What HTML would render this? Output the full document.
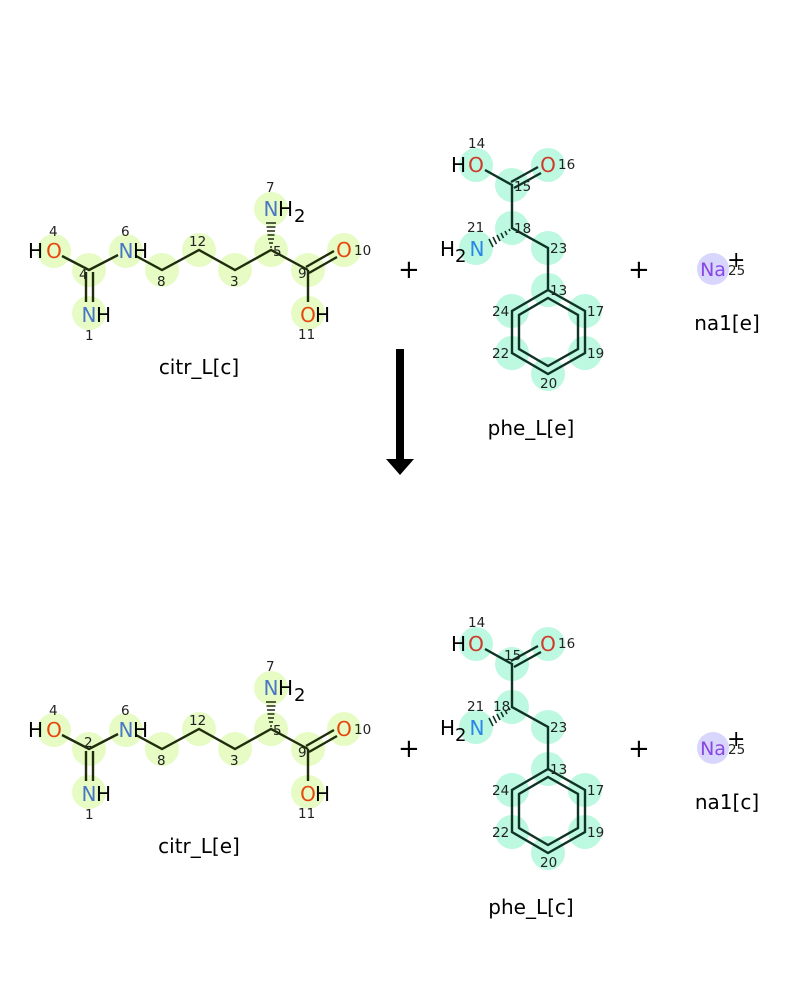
<!DOCTYPE html>
<html><head><meta charset="utf-8"><style>
html,body{margin:0;padding:0;background:#fff}
svg{display:block}
text{font-family:"DejaVu Sans","Liberation Sans",sans-serif}
.a{font-size:20px}
.c{text-anchor:middle}
.n{font-size:13.5px;fill:#222}
.lab{font-size:20px;fill:#000;text-anchor:middle}
.cy{fill:#e6fcc4}
.cp{fill:#bdf8e0}
.bc{stroke:#1f2d0c;stroke-width:2.4;fill:none}
.bp{stroke:#0f3325;stroke-width:2.4;fill:none}
.O{fill:#e5480e}
.Op{fill:#cc3b2b}
.N{fill:#4a76c6}
.Np{fill:#2b86e8}
</style></head><body>
<svg width="800" height="1000" viewBox="0 0 800 1000" xmlns="http://www.w3.org/2000/svg">
<defs></defs>
<g>
 <g class="cy">
  <circle cx="54" cy="251" r="17"/><circle cx="89" cy="270" r="17"/><circle cx="89" cy="313" r="17"/>
  <circle cx="126" cy="251" r="17"/><circle cx="162" cy="270" r="17"/><circle cx="199" cy="250" r="17"/>
  <circle cx="235" cy="270" r="17"/><circle cx="271" cy="250" r="17"/><circle cx="271" cy="209" r="17"/>
  <circle cx="308" cy="270" r="17"/><circle cx="344" cy="250" r="17"/><circle cx="308" cy="313" r="17"/>
 </g>
 <g class="bc">
  <path d="M62 256 L89 270 L118 255"/>
  <path d="M86 272 V302 M93 272 V302"/>
  <path d="M136 256 L162 270 L199 250 L235 270 L271 250 L308 270"/>
  <path d="M308 270 V302"/>
  <path d="M306 267 L334 251 M309 273 L337 257"/>
 </g>
 <g stroke="#1f2d0c" stroke-width="1.6">
  <path d="M270 247 h2 M269 243 h4 M268 239 h6 M267.5 235 h7 M267 231 h8 M266.5 227 h9 M266 223 h10"/>
 </g>
 <g class="cp">
  <circle cx="476" cy="165" r="17"/><circle cx="548" cy="165" r="17"/><circle cx="512" cy="185" r="17"/>
  <circle cx="512" cy="228" r="17"/><circle cx="476" cy="248" r="17"/><circle cx="548" cy="248" r="17"/>
  <circle cx="548" cy="290" r="17"/><circle cx="585" cy="311" r="17"/><circle cx="585" cy="353" r="17"/>
  <circle cx="548" cy="374" r="17"/><circle cx="512" cy="353" r="17"/><circle cx="512" cy="311" r="17"/>
 </g>
 <g class="bp">
  <path d="M485 170 L512 185 V228 L548 248 V290"/>
  <path d="M511 182 L538 167 M514 188 L541 173"/>
  <path d="M548 290 L585 311 V353 L548 374 L512 353 V311 Z"/>
  <path d="M548 298 L578 315 V349 L548 366 L519 349 V315 Z"/>
 </g>
 <g stroke="#0f3325" stroke-width="1.6">
  <path d="M509 229 l1 2 M505 231 l2 4 M501 233 l2.5 5 M497 235 l3 6 M493 237 l3.5 7 M489 239 l4 8"/>
 </g>
 <circle cx="713" cy="269" r="16" fill="#d8d6fc"/>
 <text class="a" x="28" y="258">H</text><text class="a O c" x="54" y="258">O</text>
 <text class="a N c" x="126" y="258">N</text><text class="a" x="133" y="258">H</text>
 <text class="a N c" x="89" y="322">N</text><text class="a" x="96" y="322">H</text>
 <text class="a N c" x="271" y="216">N</text><text class="a" x="278" y="216">H</text><text class="a" x="294" y="222" style="font-size:18px">2</text>
 <text class="a O c" x="344" y="257">O</text>
 <text class="a O c" x="308" y="322">O</text><text class="a" x="315" y="322">H</text>
 <text class="n" x="49" y="236">4</text><text class="n" x="121" y="236">6</text><text class="n" x="85" y="340">1</text>
 <text class="n" x="79" y="279">4</text><text class="n" x="157" y="286">8</text><text class="n" x="189" y="246">12</text>
 <text class="n" x="230" y="286">3</text><text class="n" x="273" y="256">5</text><text class="n" x="266" y="192">7</text>
 <text class="n" x="298" y="278">9</text><text class="n" x="354" y="255">10</text><text class="n" x="298" y="339">11</text>
 <text class="a" x="451" y="172">H</text><text class="a Op c" x="476" y="172">O</text>
 <text class="a Op c" x="548" y="172">O</text>
 <text class="a" x="440" y="256">H</text><text class="a" x="455" y="262" style="font-size:18px">2</text><text class="a Np c" x="477" y="256">N</text>
 <text class="n" x="468" y="148">14</text><text class="n" x="558" y="169">16</text><text class="n" x="514" y="191">15</text>
 <text class="n" x="467" y="232">21</text><text class="n" x="514" y="233">18</text><text class="n" x="550" y="253">23</text>
 <text class="n" x="550" y="295">13</text><text class="n" x="587" y="316">17</text><text class="n" x="587" y="358">19</text>
 <text class="n" x="540" y="388">20</text><text class="n" x="492" y="358">22</text><text class="n" x="492" y="316">24</text>
 <text class="a c" x="713" y="276" style="fill:#8a45e6;font-size:19px">Na</text><text class="n" x="728" y="275">25</text>
 <text x="727" y="267" style="font-size:22px;fill:#000">+</text>
 <text x="398" y="278" style="font-size:26px;fill:#000">+</text>
 <text x="628" y="278" style="font-size:26px;fill:#000">+</text>
</g>
<text class="lab" x="199" y="374">citr_L[c]</text>
<text class="lab" x="531" y="435">phe_L[e]</text>
<text class="lab" x="727" y="330">na1[e]</text>
<g transform="translate(0,479)">
 <g class="cy">
  <circle cx="54" cy="251" r="17"/><circle cx="89" cy="270" r="17"/><circle cx="89" cy="313" r="17"/>
  <circle cx="126" cy="251" r="17"/><circle cx="162" cy="270" r="17"/><circle cx="199" cy="250" r="17"/>
  <circle cx="235" cy="270" r="17"/><circle cx="271" cy="250" r="17"/><circle cx="271" cy="209" r="17"/>
  <circle cx="308" cy="270" r="17"/><circle cx="344" cy="250" r="17"/><circle cx="308" cy="313" r="17"/>
 </g>
 <g class="bc">
  <path d="M62 256 L89 270 L118 255"/>
  <path d="M86 272 V302 M93 272 V302"/>
  <path d="M136 256 L162 270 L199 250 L235 270 L271 250 L308 270"/>
  <path d="M308 270 V302"/>
  <path d="M306 267 L334 251 M309 273 L337 257"/>
 </g>
 <g stroke="#1f2d0c" stroke-width="1.6">
  <path d="M270 247 h2 M269 243 h4 M268 239 h6 M267.5 235 h7 M267 231 h8 M266.5 227 h9 M266 223 h10"/>
 </g>
 <g class="cp">
  <circle cx="476" cy="165" r="17"/><circle cx="548" cy="165" r="17"/><circle cx="512" cy="185" r="17"/>
  <circle cx="512" cy="228" r="17"/><circle cx="476" cy="248" r="17"/><circle cx="548" cy="248" r="17"/>
  <circle cx="548" cy="290" r="17"/><circle cx="585" cy="311" r="17"/><circle cx="585" cy="353" r="17"/>
  <circle cx="548" cy="374" r="17"/><circle cx="512" cy="353" r="17"/><circle cx="512" cy="311" r="17"/>
 </g>
 <g class="bp">
  <path d="M485 170 L512 185 V228 L548 248 V290"/>
  <path d="M511 182 L538 167 M514 188 L541 173"/>
  <path d="M548 290 L585 311 V353 L548 374 L512 353 V311 Z"/>
  <path d="M548 298 L578 315 V349 L548 366 L519 349 V315 Z"/>
 </g>
 <g stroke="#0f3325" stroke-width="1.6">
  <path d="M509 229 l1 2 M505 231 l2 4 M501 233 l2.5 5 M497 235 l3 6 M493 237 l3.5 7 M489 239 l4 8"/>
 </g>
 <circle cx="713" cy="269" r="16" fill="#d8d6fc"/>
 <text class="a" x="28" y="258">H</text><text class="a O c" x="54" y="258">O</text>
 <text class="a N c" x="126" y="258">N</text><text class="a" x="133" y="258">H</text>
 <text class="a N c" x="89" y="322">N</text><text class="a" x="96" y="322">H</text>
 <text class="a N c" x="271" y="216">N</text><text class="a" x="278" y="216">H</text><text class="a" x="294" y="222" style="font-size:18px">2</text>
 <text class="a O c" x="344" y="257">O</text>
 <text class="a O c" x="308" y="322">O</text><text class="a" x="315" y="322">H</text>
 <text class="n" x="49" y="236">4</text><text class="n" x="121" y="236">6</text><text class="n" x="85" y="340">1</text>
 <text class="n" x="84" y="268">2</text><text class="n" x="157" y="286">8</text><text class="n" x="189" y="246">12</text>
 <text class="n" x="230" y="286">3</text><text class="n" x="273" y="256">5</text><text class="n" x="266" y="192">7</text>
 <text class="n" x="298" y="278">9</text><text class="n" x="354" y="255">10</text><text class="n" x="298" y="339">11</text>
 <text class="a" x="451" y="172">H</text><text class="a Op c" x="476" y="172">O</text>
 <text class="a Op c" x="548" y="172">O</text>
 <text class="a" x="440" y="256">H</text><text class="a" x="455" y="262" style="font-size:18px">2</text><text class="a Np c" x="477" y="256">N</text>
 <text class="n" x="468" y="148">14</text><text class="n" x="558" y="169">16</text><text class="n" x="504" y="181">15</text>
 <text class="n" x="467" y="232">21</text><text class="n" x="493" y="232">18</text><text class="n" x="550" y="253">23</text>
 <text class="n" x="550" y="295">13</text><text class="n" x="587" y="316">17</text><text class="n" x="587" y="358">19</text>
 <text class="n" x="540" y="388">20</text><text class="n" x="492" y="358">22</text><text class="n" x="492" y="316">24</text>
 <text class="a c" x="713" y="276" style="fill:#8a45e6;font-size:19px">Na</text><text class="n" x="728" y="275">25</text>
 <text x="727" y="267" style="font-size:22px;fill:#000">+</text>
 <text x="398" y="278" style="font-size:26px;fill:#000">+</text>
 <text x="628" y="278" style="font-size:26px;fill:#000">+</text>
</g>
<text class="lab" x="199" y="853">citr_L[e]</text>
<text class="lab" x="531" y="914">phe_L[c]</text>
<text class="lab" x="727" y="809">na1[c]</text>
<rect x="396" y="349" width="8" height="112" fill="#000"/>
<polygon points="386,459 414,459 400,475" fill="#000"/>
</svg>
</body></html>
